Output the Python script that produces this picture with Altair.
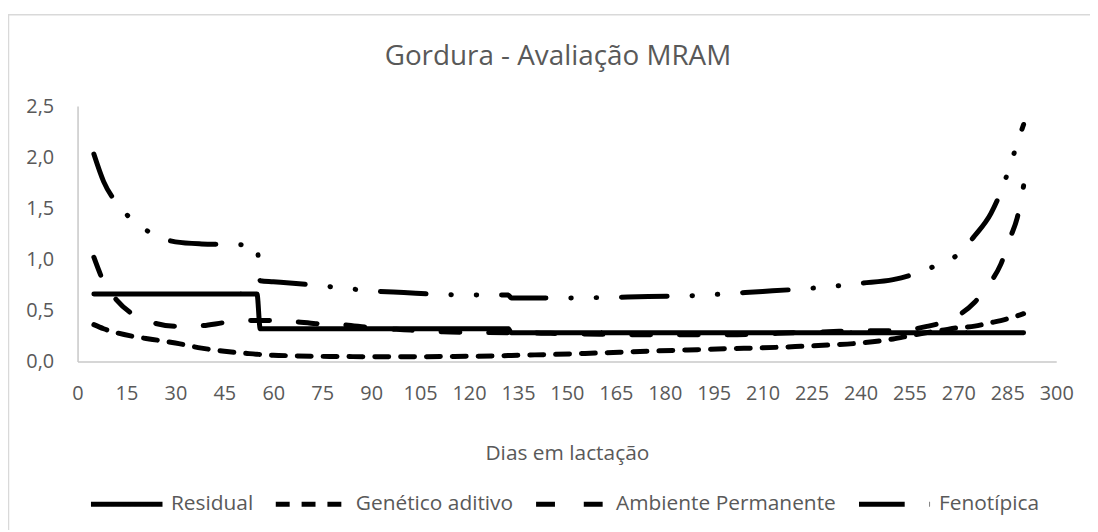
import altair as alt
import pandas as pd

# ---- data ----
days = [5, 8, 12, 17, 23, 30, 38, 45, 52, 55, 56, 60, 66, 73, 81, 90, 100, 112, 120, 132,
        133, 145, 160, 175, 190, 200, 210, 220, 230, 240, 250, 255, 260, 265, 270, 275,
        280, 283, 286, 288, 290]
residual = [0.66, 0.66, 0.66, 0.66, 0.66, 0.66, 0.66, 0.66, 0.66, 0.66, 0.32, 0.32, 0.32, 0.32,
            0.32, 0.32, 0.32, 0.32, 0.32, 0.32, 0.28, 0.28, 0.28, 0.28, 0.28, 0.28, 0.28, 0.28,
            0.28, 0.28, 0.28, 0.28, 0.28, 0.28, 0.28, 0.28, 0.28, 0.28, 0.28, 0.28, 0.28]
genetico = [0.36, 0.32, 0.28, 0.245, 0.215, 0.18, 0.13, 0.10, 0.078, 0.07, 0.068, 0.06, 0.055,
            0.05, 0.048, 0.045, 0.045, 0.048, 0.05, 0.057, 0.058, 0.068, 0.083, 0.10, 0.115,
            0.125, 0.133, 0.145, 0.16, 0.18, 0.22, 0.25, 0.28, 0.305, 0.33, 0.345, 0.38, 0.40,
            0.425, 0.445, 0.467]
ambiente = [1.02, 0.78, 0.60, 0.46, 0.38, 0.345, 0.35, 0.38, 0.40, 0.40, 0.40, 0.40, 0.39, 0.37,
            0.36, 0.33, 0.31, 0.29, 0.285, 0.28, 0.28, 0.275, 0.265, 0.26, 0.26, 0.26, 0.27,
            0.28, 0.29, 0.30, 0.30, 0.31, 0.34, 0.38, 0.45, 0.58, 0.78, 0.95, 1.22, 1.40, 1.72]
fenotipica = [2.03, 1.76, 1.55, 1.38, 1.25, 1.17, 1.15, 1.145, 1.14, 1.13, 0.79, 0.78, 0.765,
              0.745, 0.72, 0.69, 0.674, 0.655, 0.65, 0.65, 0.62, 0.62, 0.625, 0.635, 0.645,
              0.665, 0.685, 0.705, 0.73, 0.765, 0.80, 0.84, 0.90, 0.96, 1.05, 1.23, 1.45, 1.66,
              1.93, 2.13, 2.32]

series_names = ["Residual", "Genético aditivo", "Ambiente Permanente", "Fenotípica"]
x_ticks = list(range(0, 301, 15))
y_ticks = [0, 0.5, 1.0, 1.5, 2.0, 2.5]

dash_patterns = [[1, 0], [14, 12], [19, 29], [46, 25, 0.5, 25, 0.5, 25]]

rows = []
for name, vals in zip(series_names, [residual, genetico, ambiente, fenotipica]):
    for d, v in zip(days, vals):
        rows.append({"dia": d, "valor": v, "serie": name})
df = pd.DataFrame(rows)

GREY = "#595959"
FONT = "Open Sans"
W, H = 985, 257

lines = alt.Chart(df).mark_line(
    color="black", strokeWidth=5, strokeCap="round", strokeJoin="round", interpolate="monotone"
).encode(
    x=alt.X("dia:Q",
            scale=alt.Scale(domain=[0, 300], nice=False, zero=False),
            axis=alt.Axis(values=x_ticks, title="Dias em lactação", ticks=False, grid=False,
                          labelFlush=False, labelOverlap=False, labelFontSize=20,
                          labelFont=FONT, labelColor=GREY, labelPadding=22,
                          domainColor="#C8C8C8", domainWidth=1.5,
                          titleFont=FONT, titleFontSize=21, titleFontWeight="normal",
                          titleColor=GREY, titlePadding=40)),
    y=alt.Y("valor:Q",
            scale=alt.Scale(domain=[0, 2.5], nice=False),
            axis=alt.Axis(values=y_ticks, title=None, ticks=False, grid=False,
                          labelExpr="replace(format(datum.value, '.1f'), '.', ',')",
                          labelFontSize=20, labelFont=FONT, labelColor=GREY, labelPadding=24,
                          domainColor="#C8C8C8", domainWidth=1.5)),
    strokeDash=alt.StrokeDash("serie:N",
                              scale=alt.Scale(domain=series_names, range=dash_patterns),
                              sort=series_names,
                              legend=alt.Legend(title=None, orient="none", legendX=11, legendY=362,
                                                direction="horizontal", columns=4,
                                                symbolType="stroke", symbolSize=5184,
                                                symbolStrokeWidth=5, symbolStrokeColor="black",
                                                labelFont=FONT, labelFontSize=21, labelColor=GREY,
                                                labelOffset=6, columnPadding=12, labelLimit=400)),
)

frame = alt.Chart(pd.DataFrame({"a": [0]})).mark_rect(
    fill=None, stroke="#D9D9D9", strokeWidth=1.5
).encode(
    x=alt.value(-69.5), x2=alt.value(W + 80), y=alt.value(-92), y2=alt.value(H + 250)
)

chart = alt.layer(frame, lines).properties(
    width=W, height=H,
    title=alt.Title("Gordura - Avaliação MRAM", font=FONT, fontSize=28, fontWeight="normal",
                    color=GREY, anchor="middle", offset=-57, dx=-9),
    autosize=alt.AutoSizeParams(type="none"),
    padding={"left": 70, "top": 97, "right": 34, "bottom": 168},
).configure_view(stroke=None)

chart.save("out.html", embed_options={"renderer": "svg", "actions": False})
